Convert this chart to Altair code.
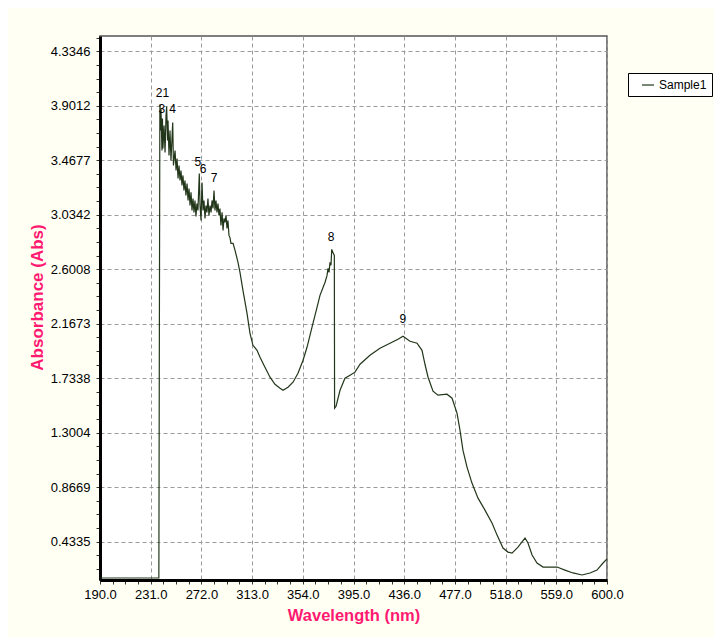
import altair as alt
import pandas as pd

# ---- spectrum (wavelength nm, absorbance) ----
WAVELENGTH = [
    190.0, 237.6, 238.0, 238.4, 238.5, 238.9, 239.3, 240.1, 240.5, 240.9, 241.8, 242.6,
    243.4, 243.9, 244.6, 245.0, 245.8, 246.6, 247.4, 248.8, 249.4, 250.7, 251.5, 252.3,
    253.1, 253.9, 254.7, 255.5, 256.3, 257.1, 257.9, 258.7, 259.5, 260.4, 261.2, 262.0,
    262.8, 263.6, 264.4, 265.2, 266.0, 266.8, 267.6, 268.4, 269.2, 270.3, 270.9, 271.7,
    272.5, 273.3, 274.1, 274.9, 275.7, 276.5, 277.3, 278.1, 279.0, 279.8, 280.6, 281.4,
    282.2, 283.0, 283.8, 284.6, 285.4, 286.2, 287.0, 287.8, 288.7, 289.5, 290.3, 291.1,
    291.9, 292.7, 293.5, 294.3, 295.1, 295.9, 297.6, 299.2, 300.8, 301.6, 303.2, 305.6,
    308.9, 311.3, 313.7, 317.0, 319.4, 323.4, 327.5, 331.5, 335.6, 338.0, 342.0, 346.1,
    350.1, 354.2, 357.4, 361.4, 365.5, 367.9, 372.0, 373.6, 374.4, 375.2, 376.0, 376.8,
    377.4, 378.7, 379.5, 379.7, 380.9, 384.1, 388.1, 392.2, 396.2, 400.3, 408.3, 416.4,
    424.5, 431.0, 435.0, 440.7, 446.4, 450.4, 452.8, 455.3, 459.3, 463.3, 470.6, 474.7,
    478.7, 481.1, 483.5, 486.8, 490.8, 495.7, 501.3, 507.0, 511.1, 515.9, 519.9, 523.2,
    528.0, 533.7, 536.1, 539.4, 543.4, 548.3, 559.6, 566.0, 572.5, 579.8, 586.3, 591.9,
    596.8, 600.0,
]
ABSORBANCE = [
    0.145, 0.145, 2.030, 3.850, 3.911, 3.704, 3.879, 3.545, 3.800, 3.561, 3.744, 3.529,
    3.823, 3.895, 3.625, 3.784, 3.506, 3.704, 3.466, 3.768, 3.426, 3.545, 3.386, 3.482,
    3.323, 3.426, 3.307, 3.386, 3.267, 3.347, 3.227, 3.307, 3.188, 3.283, 3.148, 3.243,
    3.108, 3.212, 3.069, 3.164, 3.053, 3.148, 3.021, 3.124, 3.069, 3.362, 3.108, 2.989,
    3.291, 3.069, 3.148, 3.005, 3.108, 3.053, 3.164, 3.029, 3.108, 3.053, 3.148, 3.084,
    3.227, 3.069, 3.148, 3.053, 3.124, 3.029, 3.084, 2.949, 3.053, 2.910, 3.005, 2.973,
    3.029, 2.926, 2.989, 2.870, 2.854, 2.806, 2.806, 2.751, 2.687, 2.655, 2.576, 2.433,
    2.250, 2.091, 1.996, 1.956, 1.901, 1.821, 1.742, 1.686, 1.654, 1.638, 1.662, 1.702,
    1.774, 1.877, 1.980, 2.139, 2.298, 2.393, 2.497, 2.552, 2.608, 2.576, 2.655, 2.632,
    2.759, 2.727, 2.711, 1.495, 1.511, 1.638, 1.734, 1.758, 1.782, 1.845, 1.917, 1.972,
    2.012, 2.044, 2.068, 2.028, 2.012, 1.956, 1.845, 1.742, 1.631, 1.599, 1.607, 1.575,
    1.456, 1.321, 1.162, 1.027, 0.900, 0.780, 0.685, 0.582, 0.486, 0.383, 0.351, 0.343,
    0.391, 0.463, 0.423, 0.328, 0.264, 0.232, 0.232, 0.208, 0.185, 0.169, 0.185, 0.208,
    0.264, 0.296,
]
SERIES = "Sample1"

# ---- peak labels ----
PEAK_TEXT = ["21", "3", "4", "5", "6", "7", "8", "9"]
PEAK_WL = [240.5, 240.1, 248.8, 269.2, 273.3, 282.2, 376.8, 435.0]
PEAK_ABS = [4.006, 3.875, 3.875, 3.450, 3.402, 3.323, 2.854, 2.203]

# ---- axes ----
X_DOMAIN = [190.0, 600.0]
X_LABELS = ["190.0", "231.0", "272.0", "313.0", "354.0", "395.0",
            "436.0", "477.0", "518.0", "559.0", "600.0"]
Y_DOMAIN = [0.129, 4.456]
Y_LABELS = ["0.4335", "0.8669", "1.3004", "1.7338", "2.1673",
            "2.6008", "3.0342", "3.4677", "3.9012", "4.3346"]
X_STEP = 41.0
Y_STEP = 0.433462

x_ticks = [round(190.0 + X_STEP / 4 * i, 4) for i in range(41)]
y_ticks = [round(Y_STEP / 4 * i, 6) for i in range(2, 42)]

x_list = "[" + ",".join(f"'{s}'" for s in X_LABELS) + "]"
y_list = "[" + ",".join(f"'{s}'" for s in Y_LABELS) + "]"
x_major_test = f"indexof({x_list}, format(datum.value, '.1f')) >= 0"
y_major_test = f"indexof({y_list}, format(datum.value, '.4f')) >= 0"

spec_df = pd.DataFrame({
    "wl": WAVELENGTH, "abs": ABSORBANCE,
    "order": list(range(len(WAVELENGTH))), "series": SERIES,
})
peak_df = pd.DataFrame({"wl": PEAK_WL, "abs": PEAK_ABS, "t": PEAK_TEXT})

PINK = "#FF1970"
LINE = "#22361a"
FONT = "Liberation Sans"

x_enc = alt.X(
    "wl:Q",
    scale=alt.Scale(domain=X_DOMAIN, nice=False, zero=False),
    axis=alt.Axis(
        title="Wavelength (nm)",
        values=x_ticks,
        labelExpr=f"({x_major_test}) ? format(datum.value, '.1f') : ''",
        gridOpacity={"condition": {"test": x_major_test, "value": 1}, "value": 0},
        labelPadding=4,
        titlePadding=6,
        titleFontSize=16.5,
        labelFlush=False,
        labelOverlap=False,
    ),
)
y_enc = alt.Y(
    "abs:Q",
    scale=alt.Scale(domain=Y_DOMAIN, nice=False, zero=False),
    axis=alt.Axis(
        title="Absorbance (Abs)",
        values=y_ticks,
        labelExpr=f"({y_major_test}) ? format(datum.value, '.4f') : ''",
        gridOpacity={"condition": {"test": y_major_test, "value": 1}, "value": 0},
        labelPadding=6,
        titlePadding=4,
        titleFontSize=17,
        titleY=261,
        labelFlush=False,
        labelOverlap=False,
    ),
)

line = alt.Chart(spec_df).mark_line(strokeWidth=1.2, clip=True).encode(
    x=x_enc,
    y=y_enc,
    order="order:Q",
    color=alt.Color(
        "series:N",
        scale=alt.Scale(range=[LINE]),
        legend=alt.Legend(
            title=None,
            orient="none",
            legendX=528,
            legendY=37,
            strokeColor="black",
            fillColor="white",
            padding=5,
            cornerRadius=0,
            symbolType="stroke",
            symbolSize=144,
            symbolStrokeWidth=1.2,
            symbolOffset=8,
            labelOffset=4,
            labelFont=FONT,
            labelFontSize=12,
            labelColor="black",
        ),
    ),
)

labels = alt.Chart(peak_df).mark_text(
    font=FONT, fontSize=12, color="black", align="center", baseline="middle"
).encode(x=x_enc, y=y_enc, text="t:N")

chart = (
    alt.layer(line, labels)
    .properties(
        width=507,
        height=544,
        padding={"left": 92, "top": 28, "right": 107, "bottom": 58},
        autosize=alt.AutoSizeParams(type="none"),
        background="#FFFFF4",
    )
    .configure_view(fill="white", stroke="#555555", strokeWidth=1.5)
    .configure_axis(
        labelFont=FONT,
        labelFontSize=13,
        labelColor="black",
        titleFont=FONT,
        titleFontWeight="bold",
        titleColor=PINK,
        domainColor="black",
        domainWidth=3,
        tickColor="#333333",
        tickSize=4,
        tickWidth=1,
        gridColor="#9a9a9a",
        gridDash=[4, 3],
        gridWidth=1,
    )
)

chart.save("out.html", embed_options={"renderer": "svg", "actions": False})
